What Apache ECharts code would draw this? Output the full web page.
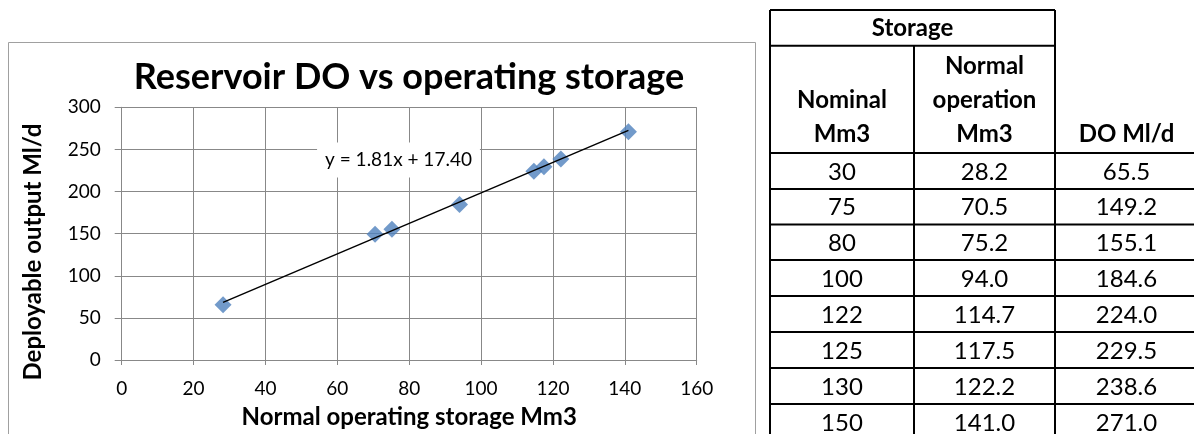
<!DOCTYPE html>
<html>
<head>
<meta charset="utf-8">
<title>Reservoir DO vs operating storage</title>
<script src="https://cdn.jsdelivr.net/npm/echarts@6/dist/echarts.min.js"></script>
<style>
  html, body { margin: 0; padding: 0; background: #fff; }
  #chart { width: 1194px; height: 434px; }
</style>
</head>
<body>
<div id="chart"></div>
<script>
// Reservoir storage table and deployable output
const nominalStorage = [30, 75, 80, 100, 122, 125, 130, 150];
const normalOperation = [28.2, 70.5, 75.2, 94.0, 114.7, 117.5, 122.2, 141.0];
const deployableOutput = [65.5, 149.2, 155.1, 184.6, 224.0, 229.5, 238.6, 271.0];

// Linear trendline as stated on the chart
const trendSlope = 1.81;
const trendIntercept = 17.40;

const xTicks = [0, 20, 40, 60, 80, 100, 120, 140, 160];
const yTicks = [0, 50, 100, 150, 200, 250, 300];

const FONT = 'Lato, "Open Sans", sans-serif';

const points = normalOperation.map((x, i) => [x, deployableOutput[i]]);
const xMin = Math.min(...normalOperation);
const xMax = Math.max(...normalOperation);
const trendLine = [xMin, xMax].map(x => [x, trendSlope * x + trendIntercept]);
const equationText = 'y = ' + trendSlope.toFixed(2) + 'x + ' + trendIntercept.toFixed(2);

// ---- table drawn with graphic elements ----
const colX = [770, 914, 1055, 1198];
const rowY = [153, 189, 224.5, 260, 296, 332, 368, 404, 440];
const tableGraphics = [];
const LINE = { stroke: '#000', lineWidth: 2 };
function hLine(x1, x2, y) {
  tableGraphics.push({ type: 'line', shape: { x1, y1: y, x2, y2: y }, style: LINE, silent: true });
}
function vLine(x, y1, y2) {
  tableGraphics.push({ type: 'line', shape: { x1: x, y1, x2: x, y2 }, style: LINE, silent: true });
}
function cellText(text, x, y, bold) {
  tableGraphics.push({
    type: 'text', x, y, silent: true,
    style: {
      text, fill: '#000', align: 'center', verticalAlign: 'middle',
      font: (bold ? 'bold 24px ' : '24px ') + FONT
    }
  });
}
hLine(colX[0], colX[2], 10);
hLine(colX[0], colX[2], 45.7);
rowY.forEach(y => hLine(colX[0], colX[3], y));
vLine(colX[0], 10, 440);
vLine(colX[1], 45.7, 440);
vLine(colX[2], 10, 440);

const colCenter = [0, 1, 2].map(i => (colX[i] + colX[i + 1]) / 2);
cellText('Storage', (colX[0] + colX[2]) / 2, 28, true);
cellText('Nominal', colCenter[0], 100, true);
cellText('Mm3', colCenter[0], 134, true);
cellText('Normal', colCenter[1], 66, true);
cellText('operation', colCenter[1], 100, true);
cellText('Mm3', colCenter[1], 134, true);
cellText('DO Ml/d', colCenter[2], 134, true);
nominalStorage.forEach((v, i) => {
  const cy = (rowY[i] + rowY[i + 1]) / 2 + 1;
  cellText(String(v), colCenter[0], cy, false);
  cellText(normalOperation[i].toFixed(1), colCenter[1], cy, false);
  cellText(deployableOutput[i].toFixed(1), colCenter[2], cy, false);
});

const chart = echarts.init(document.getElementById('chart'), null, { renderer: 'canvas' });

chart.setOption({
  backgroundColor: '#fff',
  animation: false,
  title: {
    text: 'Reservoir DO vs operating storage',
    left: 404,
    textAlign: 'center',
    top: 54,
    textStyle: { fontFamily: FONT, fontWeight: 'bold', fontSize: 36, color: '#000' }
  },
  grid: { left: 121.7, right: 497.3, top: 107.3, bottom: 73, containLabel: false },
  xAxis: {
    type: 'value',
    min: xTicks[0],
    max: xTicks[xTicks.length - 1],
    interval: xTicks[1] - xTicks[0],
    name: 'Normal operating storage Mm3',
    nameLocation: 'middle',
    nameGap: 45,
    nameTextStyle: { fontFamily: FONT, fontWeight: 'bold', fontSize: 24, color: '#000' },
    axisLine: { show: true, lineStyle: { color: '#888', width: 1 } },
    axisTick: { show: true, length: 5, lineStyle: { color: '#888' } },
    axisLabel: { margin: 19, fontFamily: FONT, fontSize: 19, color: '#000' },
    splitLine: { show: true, lineStyle: { color: '#888', width: 1 } }
  },
  yAxis: {
    type: 'value',
    min: yTicks[0],
    max: yTicks[yTicks.length - 1],
    interval: yTicks[1] - yTicks[0],
    axisLine: { show: true, lineStyle: { color: '#888', width: 1 } },
    axisTick: { show: true, length: 7, lineStyle: { color: '#888' } },
    axisLabel: { margin: 21, fontFamily: FONT, fontSize: 19, color: '#000' },
    splitLine: { show: true, lineStyle: { color: '#888', width: 1 } }
  },
  series: [
    {
      name: 'DO',
      type: 'scatter',
      data: points,
      symbol: 'diamond',
      symbolSize: [17, 17],
      itemStyle: { color: '#4f81bd' },
      z: 2
    },
    {
      name: 'Linear trend',
      type: 'line',
      data: trendLine,
      showSymbol: false,
      symbol: 'none',
      lineStyle: { color: '#000', width: 1.5 },
      z: 3
    }
  ],
  graphic: [
    // chart area frame
    {
      type: 'rect', silent: true, z: -1,
      shape: { x: 8.5, y: 42.5, width: 747, height: 420 },
      style: { fill: 'none', stroke: '#a0a0a0', lineWidth: 1 }
    },
    // vertical axis title
    {
      type: 'text', silent: true,
      x: 33, y: 252, rotation: Math.PI / 2,
      style: {
        text: 'Deployable output Ml/d', fill: '#000', align: 'center', verticalAlign: 'middle',
        font: 'bold 24px ' + FONT
      }
    },
    // trendline equation
    {
      type: 'text', silent: true, z: 10,
      x: 398.5, y: 160,
      style: {
        text: equationText, fill: '#000', align: 'center', verticalAlign: 'middle',
        font: '19px ' + FONT,
        backgroundColor: '#fff', padding: [8, 8]
      }
    }
  ].concat(tableGraphics)
});
</script>
</body>
</html>
